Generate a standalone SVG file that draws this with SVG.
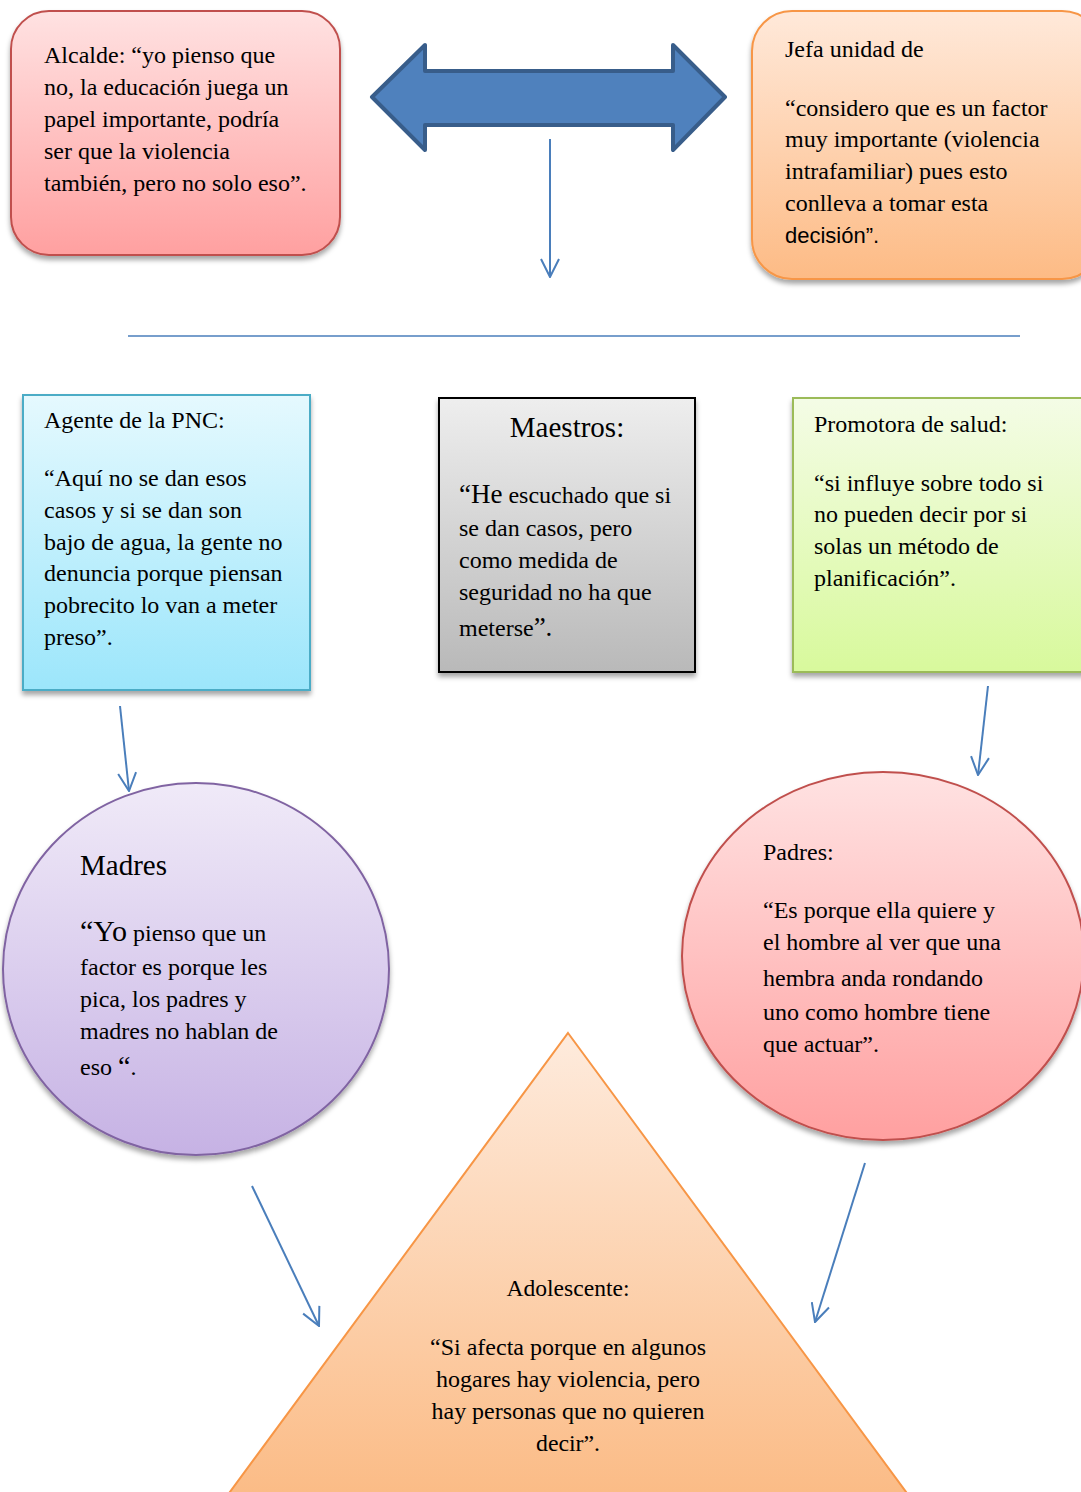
<svg xmlns="http://www.w3.org/2000/svg" width="1081" height="1492" viewBox="0 0 1081 1492">
<style>
.t{font-family:"Liberation Serif","Times New Roman",serif;font-size:24px;fill:#000}
.s{font-family:"Liberation Sans",Arial,sans-serif;font-size:22px;fill:#000}
.c{stroke:#4A7EBB;stroke-width:2;fill:none}
</style>
<defs>
<filter id="sh" x="-10%" y="-10%" width="130%" height="130%">
<feDropShadow dx="0" dy="4" stdDeviation="2.5" flood-color="#000" flood-opacity="0.35"/>
</filter>
<linearGradient id="gRed" x1="0" y1="0" x2="0" y2="1"><stop offset="0" stop-color="#FFE2E2"/><stop offset="1" stop-color="#FFA0A0"/></linearGradient>
<linearGradient id="gOr" x1="0" y1="0" x2="0" y2="1"><stop offset="0" stop-color="#FFE9DA"/><stop offset="1" stop-color="#FDBB85"/></linearGradient>
<linearGradient id="gBl" x1="0" y1="0" x2="0" y2="1"><stop offset="0" stop-color="#E5F9FE"/><stop offset="1" stop-color="#9CE6FB"/></linearGradient>
<linearGradient id="gGr" x1="0" y1="0" x2="0" y2="1"><stop offset="0" stop-color="#EEEEEE"/><stop offset="1" stop-color="#B9B9B9"/></linearGradient>
<linearGradient id="gGn" x1="0" y1="0" x2="0" y2="1"><stop offset="0" stop-color="#F4FCE6"/><stop offset="1" stop-color="#D8F99C"/></linearGradient>
<linearGradient id="gPu" x1="0" y1="0" x2="0" y2="1"><stop offset="0" stop-color="#F0EAF8"/><stop offset="1" stop-color="#C6B2E4"/></linearGradient>
<linearGradient id="gTr" x1="0" y1="0" x2="0" y2="1"><stop offset="0" stop-color="#FEEBDD"/><stop offset="1" stop-color="#FBBB85"/></linearGradient>
<marker id="ah" viewBox="0 0 20 20" refX="19" refY="10" markerWidth="20" markerHeight="20" markerUnits="userSpaceOnUse" orient="auto">
<path d="M1,1 L19,10 L1,19" fill="none" stroke="#4A7EBB" stroke-width="2"/>
</marker>
</defs>

<g id="alcalde">
<rect x="11" y="11" width="329" height="244" rx="38" fill="url(#gRed)" stroke="#C0504D" stroke-width="2" filter="url(#sh)"/>
<text class="t" x="44" y="63">Alcalde: “yo pienso que</text>
<text class="t" x="44" y="95">no, la educación juega un</text>
<text class="t" x="44" y="127">papel importante, podría</text>
<text class="t" x="44" y="159">ser que la violencia</text>
<text class="t" x="44" y="191">también, pero no solo eso”.</text>
</g>

<g id="doble-flecha">
<polygon points="372,97 425,45 425,71 673,71 673,45 725,97 673,150 673,125 425,125 425,150" fill="#4F81BD" stroke="#385D8A" stroke-width="4" stroke-linejoin="round"/>
</g>

<g id="jefa">
<rect x="752" y="11" width="350" height="268" rx="40" fill="url(#gOr)" stroke="#F79646" stroke-width="2" filter="url(#sh)"/>
<text class="t" x="785" y="57">Jefa unidad de</text>
<text class="t" x="785" y="116">“considero que es un factor</text>
<text class="t" x="785" y="147">muy importante (violencia</text>
<text class="t" x="785" y="179">intrafamiliar) pues esto</text>
<text class="t" x="785" y="211">conlleva a tomar esta</text>
<text class="s" x="785" y="243">decisión”.</text>
</g>

<g id="separador">
<line x1="128" y1="336" x2="1020" y2="336" stroke="#4A7EBB" stroke-width="1.5"/>
</g>

<g id="agente">
<rect x="23" y="395" width="287" height="295" fill="url(#gBl)" stroke="#4BACC6" stroke-width="2" filter="url(#sh)"/>
<text class="t" x="44" y="428">Agente de la PNC:</text>
<text class="t" x="44" y="486">“Aquí no se dan esos</text>
<text class="t" x="44" y="518">casos y si se dan son</text>
<text class="t" x="44" y="550">bajo de agua, la gente no</text>
<text class="t" x="44" y="581">denuncia porque piensan</text>
<text class="t" x="44" y="613">pobrecito lo van a meter</text>
<text class="t" x="44" y="645">preso”.</text>
</g>

<g id="maestros">
<rect x="439" y="398" width="256" height="274" fill="url(#gGr)" stroke="#000" stroke-width="2" filter="url(#sh)"/>
<text class="t" x="567" y="437" text-anchor="middle" style="font-size:29px">Maestros:</text>
<text class="t" x="459" y="503"><tspan style="font-size:27px">“He</tspan> escuchado que si</text>
<text class="t" x="459" y="536">se dan casos, pero</text>
<text class="t" x="459" y="568">como medida de</text>
<text class="t" x="459" y="600">seguridad no ha que</text>
<text class="t" x="459" y="636">meterse<tspan style="font-size:27px">”.</tspan></text>
</g>

<g id="promotora">
<rect x="793" y="398" width="310" height="274" fill="url(#gGn)" stroke="#9BBB59" stroke-width="2" filter="url(#sh)"/>
<text class="t" x="814" y="432">Promotora de salud:</text>
<text class="t" x="814" y="491">“si influye sobre todo si</text>
<text class="t" x="814" y="522">no pueden decir por si</text>
<text class="t" x="814" y="554">solas un método de</text>
<text class="t" x="814" y="586">planificación”.</text>
</g>

<g id="madres">
<ellipse cx="196" cy="969" rx="193" ry="186" fill="url(#gPu)" stroke="#8064A2" stroke-width="2" filter="url(#sh)"/>
<text class="t" x="80" y="875" style="font-size:29px">Madres</text>
<text class="t" x="80" y="941"><tspan style="font-size:30px">“Yo</tspan> pienso que un</text>
<text class="t" x="80" y="975">factor es porque les</text>
<text class="t" x="80" y="1007">pica, los padres y</text>
<text class="t" x="80" y="1039">madres no hablan de</text>
<text class="t" x="80" y="1075">eso <tspan style="font-size:28px">“</tspan>.</text>
</g>

<g id="padres">
<ellipse cx="883" cy="956" rx="201" ry="184" fill="url(#gRed)" stroke="#C0504D" stroke-width="2" filter="url(#sh)"/>
<text class="t" x="763" y="860">Padres:</text>
<text class="t" x="763" y="918">“Es porque ella quiere y</text>
<text class="t" x="763" y="950">el hombre al ver que una</text>
<text class="t" x="763" y="986">hembra anda rondando</text>
<text class="t" x="763" y="1020">uno como hombre tiene</text>
<text class="t" x="763" y="1052">que actuar”.</text>
</g>

<g id="adolescente">
<polygon points="568,1033 912,1500 224,1500" fill="url(#gTr)" stroke="#F79646" stroke-width="2"/>
<text class="t" x="568" y="1296" text-anchor="middle" textLength="123" lengthAdjust="spacingAndGlyphs">Adolescente:</text>
<text class="t" x="568" y="1355" text-anchor="middle" textLength="276" lengthAdjust="spacingAndGlyphs">“Si afecta porque en algunos</text>
<text class="t" x="568" y="1387" text-anchor="middle" textLength="264" lengthAdjust="spacingAndGlyphs">hogares hay violencia, pero</text>
<text class="t" x="568" y="1419" text-anchor="middle" textLength="273" lengthAdjust="spacingAndGlyphs">hay personas que no quieren</text>
<text class="t" x="568" y="1451" text-anchor="middle" textLength="64" lengthAdjust="spacingAndGlyphs">decir”.</text>
</g>

<g id="conectores">
<line class="c" x1="550" y1="139" x2="550" y2="277" marker-end="url(#ah)"/>
<line class="c" x1="120" y1="706" x2="129" y2="791" marker-end="url(#ah)"/>
<line class="c" x1="988" y1="686" x2="978" y2="775" marker-end="url(#ah)"/>
<line class="c" x1="252" y1="1186" x2="319" y2="1326" marker-end="url(#ah)"/>
<line class="c" x1="865" y1="1163" x2="815" y2="1322" marker-end="url(#ah)"/>
</g>
</svg>
